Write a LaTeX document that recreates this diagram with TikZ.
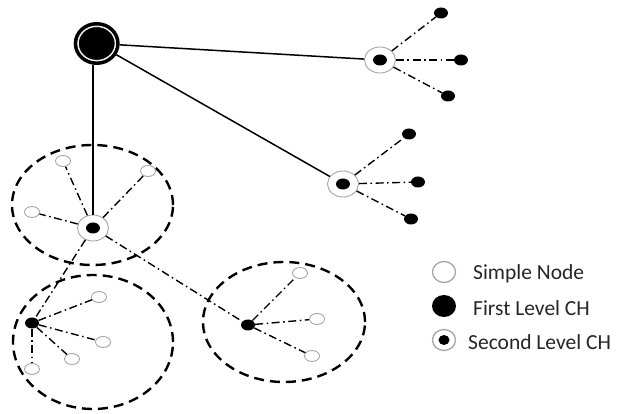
\documentclass[tikz,border=0pt]{standalone}
\usepackage{fontspec}
\setmainfont{Carlito}
\usetikzlibrary{shapes.geometric}
\begin{document}
\begin{tikzpicture}[x=1pt,y=-1pt,
 simple/.style={ellipse,draw=gray!70,line width=0.9pt,fill=white,minimum width=15pt,minimum height=11pt,inner sep=0pt},
 leaf/.style={ellipse,fill=black,minimum width=14pt,minimum height=11pt,inner sep=0pt},
 firstch/.style={ellipse,fill=black,minimum width=14pt,minimum height=11pt,inner sep=0pt},
 secondch/.style={ellipse,draw=gray!70,line width=0.9pt,fill=white,minimum width=31pt,minimum height=26pt,inner sep=0pt,
   path picture={\fill[black] (path picture bounding box.center) ellipse [x radius=7pt,y radius=5.5pt];}},
 sink/.style={ellipse,draw=black,line width=3pt,fill=black,minimum width=43pt,minimum height=40pt,inner sep=0pt,
   path picture={\draw[white!85!gray,line width=1.5pt] (path picture bounding box.center) ellipse [x radius=18.7pt,y radius=17.2pt];}},
 solidlink/.style={line width=1.5pt},
 dashdot/.style={line width=1.4pt,dash pattern=on 8pt off 3.5pt on 1.6pt off 3.5pt},
 zone/.style={line width=2.4pt,dash pattern=on 10pt off 6pt},
 legtext/.style={anchor=west,font=\fontsize{21.5}{25}\selectfont,text=black!85,inner sep=0pt},
 lsimple/.style={ellipse,draw=gray!70,line width=1.3pt,fill=white,minimum width=23pt,minimum height=21pt,inner sep=0pt},
 lfirst/.style={ellipse,fill=black,minimum width=24pt,minimum height=22pt,inner sep=0pt},
 lsecond/.style={ellipse,draw=gray!70,line width=1.3pt,fill=white,minimum width=23pt,minimum height=21pt,inner sep=0pt,
   path picture={\fill[black] (path picture bounding box.center) ellipse [x radius=5.5pt,y radius=5pt];}}
]
\useasboundingbox (0,0) rectangle (619,414);

% dashed zones
\draw[zone] (92.5,205) ellipse [x radius=80.5pt, y radius=60pt];
\draw[zone] (93,342) ellipse [x radius=80pt, y radius=67pt];
\draw[zone] (284,322) ellipse [x radius=81pt, y radius=60pt];

% nodes
\node[sink] (top) at (96.7,43.5) {};
\node[secondch] (cR1) at (380,60) {};
\node[secondch] (cR2) at (343,184) {};
\node[secondch] (cA) at (93,228) {};
\node[firstch] (cL) at (32,323) {};
\node[firstch] (cM) at (248,325) {};

\node[leaf] (r1a) at (441,13) {};
\node[leaf] (r1b) at (461,60) {};
\node[leaf] (r1c) at (448,96) {};
\node[leaf] (r2a) at (409,134) {};
\node[leaf] (r2b) at (418,182) {};
\node[leaf] (r2c) at (411,219) {};

\node[simple] (a1) at (63,161) {};
\node[simple] (a2) at (148,171) {};
\node[simple] (a3) at (32,212) {};

\node[simple] (l1) at (99,297) {};
\node[simple] (l2) at (103,342) {};
\node[simple] (l3) at (72,359) {};
\node[simple] (l4) at (32,369) {};

\node[simple] (m1) at (300,273) {};
\node[simple] (m2) at (317,319) {};
\node[simple] (m3) at (312,356) {};

% solid links
\draw[solidlink] (top) -- (cR1);
\draw[solidlink] (top) -- (cR2);
\draw[solidlink] (cA) -- (cA |- top.south);

% dash-dot links
\foreach \t in {r1a,r1b,r1c} \draw[dashdot] (cR1) -- (\t);
\foreach \t in {r2a,r2b,r2c} \draw[dashdot] (cR2) -- (\t);
\foreach \t in {a1,a2,a3,cL,cM} \draw[dashdot] (cA) -- (\t);
\foreach \t in {l1,l2,l3,l4} \draw[dashdot] (cL) -- (\t);
\foreach \t in {m1,m2,m3} \draw[dashdot] (cM) -- (\t);

% legend
\node[lsimple] (k1) at (444,272) {};
\node[lfirst] (k2) at (444,306) {};
\node[lsecond] (k3) at (444,340) {};
\node[legtext] (t1) at (473,274) {Simple Node};
\node[legtext] (t2) at (473,308) {First Level CH};
\node[legtext] (t3) at (468,342) {Second Level CH};
\end{tikzpicture}
\end{document}
